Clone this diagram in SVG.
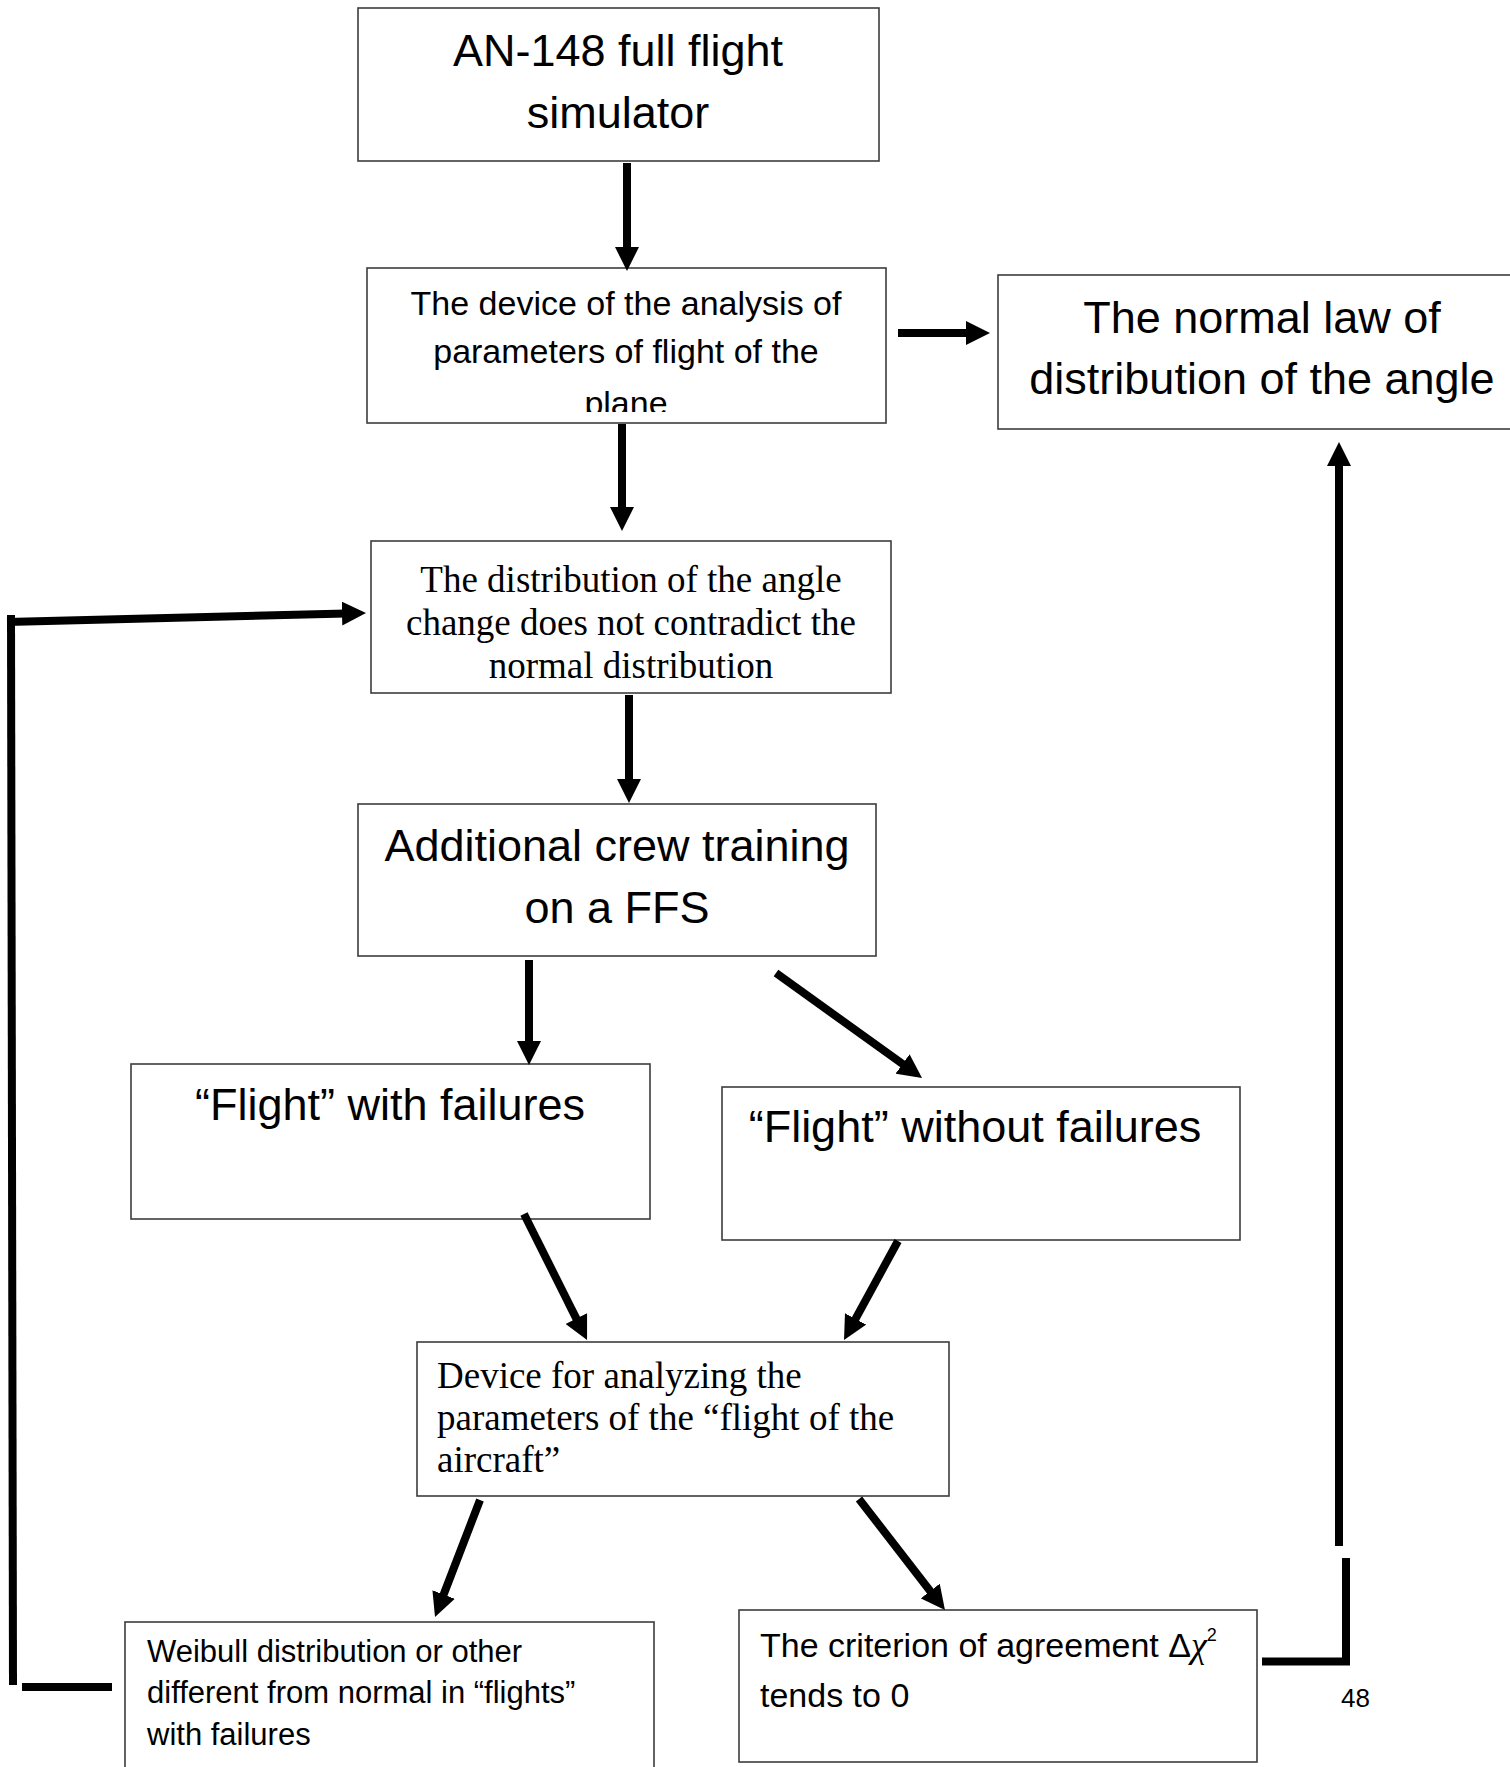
<svg xmlns="http://www.w3.org/2000/svg" width="1510" height="1767" viewBox="0 0 1510 1767">
<style>
.box{fill:#fff;stroke:#3c3c3c;stroke-width:1.6}
.sans{font-family:"Liberation Sans",Arial,sans-serif;fill:#000}
.serif{font-family:"Liberation Serif","Times New Roman",serif;fill:#000}
.c{text-anchor:middle}
.con{stroke:#000;stroke-width:8;fill:none;stroke-linecap:butt}
.arr{marker-end:url(#ah)}
</style>
<defs>
<marker id="ah" viewBox="0 0 24 24" refX="4" refY="12" markerWidth="24" markerHeight="24" markerUnits="userSpaceOnUse" orient="auto">
<path d="M0,0 L24,12 L0,24 Z" fill="#000"/>
</marker>
<clipPath id="clip2"><rect x="367" y="268" width="519" height="144"/></clipPath>
</defs>
<rect width="1510" height="1767" fill="#fff"/>

<g id="n1">
<rect class="box" x="358" y="8" width="521" height="153"/>
<text class="sans c" x="618" y="66" font-size="45">AN-148 full flight</text>
<text class="sans c" x="618" y="128" font-size="45">simulator</text>
</g>

<g id="n2">
<rect class="box" x="367" y="268" width="519" height="155"/>
<g clip-path="url(#clip2)">
<text class="sans c" x="626" y="315" font-size="34">The device of the analysis of</text>
<text class="sans c" x="626" y="363" font-size="34">parameters of flight of the</text>
<text class="sans c" x="626" y="415" font-size="34">plane</text>
</g>
</g>

<g id="n3">
<rect class="box" x="998" y="275" width="530" height="154"/>
<text class="sans c" x="1262" y="333" font-size="45">The normal law of</text>
<text class="sans c" x="1262" y="394" font-size="45">distribution of the angle</text>
</g>

<g id="n4">
<rect class="box" x="371" y="541" width="520" height="152"/>
<text class="serif c" x="631" y="592" font-size="37">The distribution of the angle</text>
<text class="serif c" x="631" y="635" font-size="37">change does not contradict the</text>
<text class="serif c" x="631" y="678" font-size="37">normal distribution</text>
</g>

<g id="n5">
<rect class="box" x="358" y="804" width="518" height="152"/>
<text class="sans c" x="617" y="861" font-size="45">Additional crew training</text>
<text class="sans c" x="617" y="923" font-size="45">on a FFS</text>
</g>

<g id="n6">
<rect class="box" x="131" y="1064" width="519" height="155"/>
<text class="sans c" x="390" y="1120" font-size="45">“Flight” with failures</text>
</g>

<g id="n7">
<rect class="box" x="722" y="1087" width="518" height="153"/>
<text class="sans c" x="975" y="1142" font-size="45">“Flight” without failures</text>
</g>

<g id="n8">
<rect class="box" x="417" y="1342" width="532" height="154"/>
<text class="serif" x="437" y="1388" font-size="37">Device for analyzing the</text>
<text class="serif" x="437" y="1430" font-size="37">parameters of the “flight of the</text>
<text class="serif" x="437" y="1472" font-size="37">aircraft”</text>
</g>

<g id="n9">
<rect class="box" x="125" y="1622" width="529" height="170"/>
<text class="sans" x="147" y="1662" font-size="31">Weibull distribution or other</text>
<text class="sans" x="147" y="1703" font-size="31">different from normal in “flights”</text>
<text class="sans" x="147" y="1745" font-size="31">with failures</text>
</g>

<g id="n10">
<rect class="box" x="739" y="1610" width="518" height="152"/>
<text class="sans" x="760" y="1657" font-size="34">The criterion of agreement Δ<tspan class="serif" font-style="italic" font-size="36">χ</tspan><tspan font-size="18" dy="-16">2</tspan></text>
<text class="sans" x="760" y="1707" font-size="34">tends to 0</text>
</g>

<g id="page">
<text class="sans" x="1341" y="1707" font-size="26">48</text>
</g>

<g id="connectors">
<line class="con arr" x1="627" y1="163" x2="627" y2="251"/>
<line class="con arr" x1="898" y1="333" x2="970" y2="333"/>
<line class="con arr" x1="622" y1="424" x2="622" y2="511"/>
<line class="con arr" x1="629" y1="695" x2="629" y2="783"/>
<line class="con arr" x1="529" y1="960" x2="529" y2="1045"/>
<line class="con arr" x1="776" y1="973" x2="905.8" y2="1066.3"/>
<line class="con arr" x1="524" y1="1214" x2="578.1" y2="1322.1"/>
<line class="con arr" x1="898" y1="1241" x2="853.6" y2="1322.4"/>
<line class="con arr" x1="480" y1="1500" x2="442.2" y2="1598.3"/>
<line class="con arr" x1="859" y1="1499" x2="932.7" y2="1594.2"/>
<line class="con" x1="11" y1="615" x2="13" y2="1685"/>
<line class="con arr" x1="7" y1="622" x2="346" y2="613.5"/>
<line class="con" x1="22" y1="1687" x2="112" y2="1687" stroke-width="9"/>
<path class="con" d="M1262,1661.5 H1346 V1558" stroke-linejoin="miter"/>
<line class="con arr" x1="1339" y1="1546" x2="1339" y2="462"/>
</g>
</svg>
